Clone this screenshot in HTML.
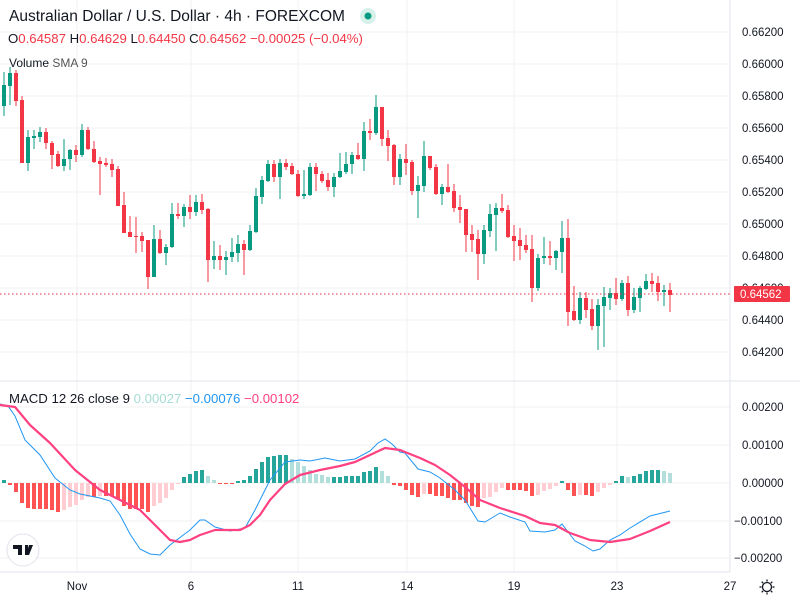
<!DOCTYPE html>
<html><head><meta charset="utf-8"><style>
body{margin:0;background:#fff;width:800px;height:600px;overflow:hidden;font-family:"Liberation Sans",sans-serif}
svg{display:block}
</style></head><body>
<svg id="c" width="800" height="600" xmlns="http://www.w3.org/2000/svg" font-family="Liberation Sans, sans-serif"></svg>
<script>
const G='#089981',R='#f23645';
const C=[
[1,85,106,72,116],[1,73,86,67,105],[0,73,101,70,106],[0,100,163,96,163],[1,137,163,130,171],
[1,136,138,130,149],[1,132,137,127,142],[0,132,143,128,149],[0,143,155,141,169],[0,154,166,151,167],
[1,159,166,139,171],[1,150,159,149,170],[0,150,155,145,162],[1,130,155,124,157],[0,130,149,127,150],
[0,149,162,141,163],[0,161,164,157,195],[0,163,165,158,167],[0,164,170,159,177],[0,169,206,166,206],
[0,205,233,192,233],[0,232,237,216,237],[0,236,237,217,253],[0,236,241,232,252],[0,240,277,240,289],
[1,239,277,225,277],[0,239,253,230,254],[1,247,253,244,265],[1,214,247,203,248],[0,214,216,203,219],
[1,207,216,204,227],[0,207,212,195,219],[1,202,212,195,216],[0,202,210,194,214],[0,209,260,208,282],
[1,256,260,241,269],[0,256,260,245,270],[1,257,260,251,275],[1,252,257,238,262],[1,244,253,235,262],
[0,244,250,240,275],[1,231,250,225,251],[1,196,232,188,233],[1,180,197,176,204],[1,164,181,160,182],
[0,164,177,160,182],[1,163,177,159,199],[0,163,167,159,170],[0,166,174,163,175],[0,174,196,170,197],
[1,194,196,170,199],[1,167,195,163,196],[0,167,174,163,191],[0,174,181,171,183],[0,180,187,173,191],
[1,177,187,173,197],[1,171,177,153,178],[1,164,172,152,174],[1,155,164,152,174],[0,155,159,143,160],
[1,131,159,122,171],[0,131,133,119,140],[1,107,133,95,135],[0,107,139,107,146],[0,138,146,130,161],
[0,145,177,144,185],[1,159,177,154,185],[0,159,163,144,175],[0,162,191,160,195],[1,185,191,176,218],
[1,156,186,141,192],[0,156,168,156,170],[0,167,194,164,195],[1,187,194,184,205],[0,187,192,164,193],
[0,191,208,184,212],[0,207,210,195,223],[0,209,235,209,252],[0,234,240,225,252],[0,239,254,230,280],
[1,230,254,225,264],[1,214,231,204,237],[1,208,215,203,251],[0,208,211,194,213],[0,210,237,205,238],
[0,236,241,225,261],[0,240,246,228,260],[0,245,250,235,253],[0,249,288,235,302],[1,258,288,254,291],
[1,256,258,237,264],[0,256,258,241,265],[1,251,258,250,270],[1,238,252,221,273],[0,238,312,219,326],
[0,311,320,286,321],[1,298,320,292,324],[0,298,310,292,318],[0,309,326,299,330],[1,305,326,299,350],
[1,297,306,287,347],[1,293,298,288,310],[0,293,299,278,305],[1,283,299,280,301],[0,283,310,276,316],
[1,297,310,288,313],[1,288,298,286,312],[1,281,289,274,290],[0,281,284,273,292],[0,283,292,276,301],
[1,290,292,285,306],[0,290,295,283,312]];
const H=[3,-2,-9,-20,-25,-26,-26,-26,-27,-29,-27,-24,-22,-17,-14,-14,-13,-13,-13,-16,-23,-26,-26,-26,-29,-23,-20,-15,-7,-1,6,9,12,13,7,3,-1,-1,-1,2,3,7,14,21,26,27,28,28,24,21,17,13,9,8,6,6,6,7,7,7,11,12,16,12,7,-2,-3,-7,-12,-14,-11,-11,-13,-13,-15,-17,-17,-20,-23,-24,-15,-14,-9,-5,-7,-7,-7,-8,-13,-12,-8,-6,-3,2,-7,-13,-12,-12,-13,-9,-5,-2,2,7,6,7,9,12,13,13,12,10];
const M=[[0,404],[8,406],[15,416],[25,440],[40,455],[55,478],[70,490],[80,494],[100,498],[110,501],[120,515],[130,534],[140,549],[150,554],[160,555],[170,545],[190,530],[200,520],[205,520],[215,527],[230,531],[245,528],[255,510],[270,480],[285,462],[300,460],[310,461],[325,458],[340,461],[355,459],[370,451],[378,443],[385,439],[392,444],[400,452],[405,453],[418,469],[430,472],[440,478],[455,490],[465,500],[478,521],[485,522],[500,513],[510,517],[525,522],[530,531],[545,532],[555,530],[562,524],[575,541],[585,546],[593,551],[600,549],[610,540],[620,535],[630,528],[650,516],[670,511]];
const S=[[0,405],[15,407],[30,425],[50,443],[75,470],[100,490],[120,500],[140,510],[155,525],[170,540],[180,542],[190,540],[200,535],[215,530],[240,530],[250,525],[260,515],[270,500],[285,484],[300,475],[320,470],[340,466],[355,462],[370,455],[385,448],[400,450],[410,454],[420,458],[435,465],[450,475],[465,487],[480,500],[500,508],[525,516],[540,523],[555,525],[570,533],[590,540],[610,542],[630,539],[650,531],[670,522]];
let s='';
[32,64,96,128,160,192,224,256,288,320,352].forEach(y=>s+=`<line x1="0" x2="730" y1="${y}" y2="${y}" stroke="#f0f1f3"/>`);
[407,445,483,521,558].forEach(y=>s+=`<line x1="0" x2="730" y1="${y}" y2="${y}" stroke="#f0f1f3"/>`);
[77,191,298,407,514,617].forEach(x=>s+=`<line x1="${x}" x2="${x}" y1="0" y2="572" stroke="#f0f1f3"/>`);
s+=`<line x1="0" x2="800" y1="381" y2="381" stroke="#e0e3eb"/>`;
s+=`<line x1="730" x2="730" y1="0" y2="572" stroke="#e0e3eb"/>`;
s+=`<line x1="0" x2="730" y1="572" y2="572" stroke="#e0e3eb"/>`;
C.forEach((c,i)=>{const x=4+6*i,col=c[0]?G:R;
s+=`<line x1="${x}" x2="${x}" y1="${c[3]}" y2="${c[4]}" stroke="${col}" stroke-width="1"/>`;
s+=`<rect x="${x-2}" y="${c[1]}" width="4" height="${Math.max(1,c[2]-c[1])}" fill="${col}"/>`;});
s+=`<line x1="0" x2="730" y1="294" y2="294" stroke="${R}" stroke-dasharray="1.5,2.5"/>`;
H.forEach((h,i)=>{const x=4+6*i,p=i>0?H[i-1]:h;let col;
if(h>=0)col=h>=p?'#26a69a':'#b2dfdb';else col=h<=p?'#ff5252':'#ffcdd2';
s+=`<rect x="${x-2}" y="${h>=0?483-h:483}" width="4" height="${Math.max(1,Math.abs(h))}" fill="${col}"/>`;});
s+=`<polyline points="${M.map(p=>p.join(',')).join(' ')}" fill="none" stroke="#2196f3" stroke-width="1"/>`;
s+=`<polyline points="${S.map(p=>p.join(',')).join(' ')}" fill="none" stroke="#ff4081" stroke-width="2.2" stroke-linejoin="round"/>`;
const pl=['0.66200','0.66000','0.65800','0.65600','0.65400','0.65200','0.65000','0.64800','0.64600','0.64400','0.64200'];
pl.forEach((t,k)=>s+=`<text x="742" y="${32+32*k+4}" font-size="11.5" fill="#131722">${t}</text>`);
s+=`<rect x="734" y="286" width="56" height="16" rx="1" fill="${R}"/><text x="740" y="298" font-size="11.5" fill="#fff">0.64562</text>`;
[['0.00200',407],['0.00100',445],['0.00000',483],['\u22120.00100',521],['\u22120.00200',558]].forEach(a=>s+=`<text x="${a[0][0]=='0'?742:734}" y="${a[1]+4}" font-size="11.5" fill="#131722">${a[0]}</text>`);
[['Nov',77],['6',191],['11',298],['14',407],['19',514],['23',617],['27',730]].forEach(a=>s+=`<text x="${a[1]}" y="590" font-size="11.5" fill="#131722" text-anchor="middle">${a[0]}</text>`);
s+=`<circle cx="767" cy="587" r="4.5" fill="none" stroke="#131722" stroke-width="1.3"/>`;
for(let k=0;k<8;k++){const a=k*Math.PI/4;s+=`<line x1="${767+5.5*Math.cos(a)}" y1="${587+5.5*Math.sin(a)}" x2="${767+7.5*Math.cos(a)}" y2="${587+7.5*Math.sin(a)}" stroke="#131722" stroke-width="1.3"/>`;}
s+=`<text x="9" y="21" font-size="15.5" fill="#131722">Australian Dollar / U.S. Dollar · 4h · FOREXCOM</text>`;
s+=`<circle cx="368" cy="16" r="8" fill="#d6f0ea"/><circle cx="368" cy="16" r="3.5" fill="#089981"/>`;
s+=`<text x="8" y="43" font-size="13.2" fill="#131722">O<tspan fill="${R}">0.64587</tspan> H<tspan fill="${R}">0.64629</tspan> L<tspan fill="${R}">0.64450</tspan> C<tspan fill="${R}">0.64562</tspan> <tspan fill="${R}">−0.00025 (−0.04%)</tspan></text>`;
s+=`<text x="9" y="67" font-size="12" fill="#131722">Volume <tspan fill="#555">SMA 9</tspan></text>`;
s+=`<text x="9" y="403" font-size="13.2" fill="#131722">MACD 12 26 close 9 <tspan fill="#a5dcd3">0.00027</tspan> <tspan fill="#2196f3">−0.00076</tspan> <tspan fill="#ff4081">−0.00102</tspan></text>`;
s+=`<circle cx="23" cy="550" r="16" fill="#fff" stroke="#e0e3eb"/><path d="M13 545h9v10h-4v-6h-5z M25 545h3v10h-3z M29 545h4l-4 10h-3z" fill="#131722"/>`;
document.getElementById('c').innerHTML=s;
</script>
</body></html>
